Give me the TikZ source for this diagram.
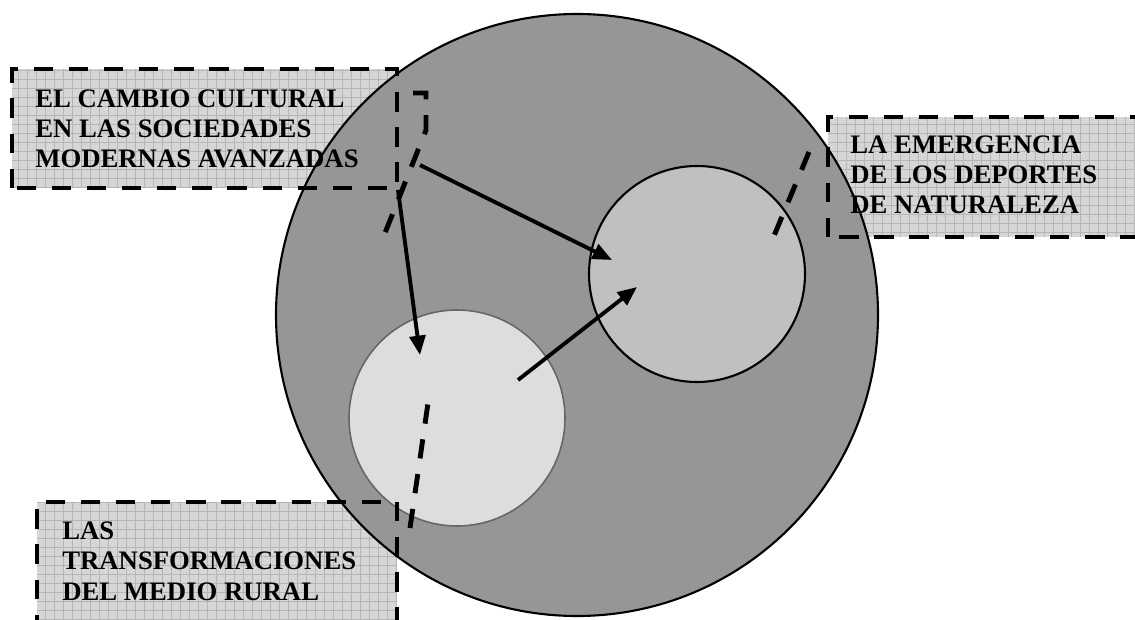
\documentclass[tikz,border=0pt]{standalone}
\usepackage{fontspec}
\setmainfont{Liberation Serif}
\usetikzlibrary{arrows.meta}
\definecolor{anillo}{RGB}{150,150,150}
\definecolor{deporte}{RGB}{192,192,192}
\definecolor{campo}{RGB}{221,221,221}
\definecolor{caja}{RGB}{214,214,214}
\definecolor{rejilla}{RGB}{182,182,182}
\begin{document}
\begin{tikzpicture}[font=\bfseries\fontsize{15.2}{17.2}\selectfont,
  raya/.style={line width=2.8pt, dash pattern=on 11pt off 9pt},
  flecha/.style={line width=2.2pt, -{Triangle[length=11pt,width=9pt]}},
  disco/.style={circle, draw, inner sep=0pt},
  rotulo/.style={anchor=base west, align=left, inner sep=0pt}]
  \useasboundingbox (0,0) rectangle (22.70,12.38);
  % fondo cuadriculado de las cajas
  \foreach \xa/\ya/\xb/\yb in {0.24/8.62/7.94/11.00, 16.56/7.64/22.90/10.04, 0.74/-0.30/7.94/2.34}{
    \begin{scope}
      \clip (\xa,\ya) rectangle (\xb,\yb);
      \fill[caja] (\xa,\ya) rectangle (\xb,\yb);
      \draw[rejilla, line width=0.5pt, step=0.18] (\xa,\ya) grid (\xb,\yb);
    \end{scope}
  }
  % circulos
  \node[disco, line width=1.2pt, fill=anillo, minimum size=12.04cm] (nucleo) at (11.54,6.08) {};
  \node[disco, line width=1.2pt, fill=deporte, minimum size=4.32cm] (deportes) at (13.94,6.90) {};
  \node[disco, draw=black!60, line width=0.9pt, fill=campo, minimum size=4.32cm] (rural) at (9.14,4.02) {};
  % bordes
  \foreach \xa/\ya/\xb/\yb in {0.24/8.62/7.94/11.00, 16.56/7.64/22.90/10.04, 0.74/-0.30/7.94/2.34}
    \draw[raya] (\xa,\ya) rectangle (\xb,\yb);
  % textos (base = ultima linea)
  \node[rotulo] (cambio) at (0.70,9.02)
    {EL CAMBIO CULTURAL\\EN LAS SOCIEDADES\\MODERNAS AVANZADAS};
  \node[rotulo] (emergencia) at (17.00,8.10)
    {LA EMERGENCIA\\DE LOS DEPORTES\\DE NATURALEZA};
  \node[rotulo] (medio) at (1.24,0.38)
    {LAS\\TRANSFORMACIONES\\DEL MEDIO RURAL};
  % lineas de llamada
  \coordinate (cambio-t) at (8.26,10.52);
  \coordinate (cambio-p) at (7.62,7.52);
  \coordinate (emergencia-t) at (16.18,9.34);
  \coordinate (emergencia-p) at (15.42,7.52);
  \coordinate (medio-t) at (8.20,1.82);
  \coordinate (medio-p) at (8.56,4.32);
  \draw[raya] (cambio-t) -- ++(0.26,0) -- ++(0,-0.74) -- (cambio-p);
  \draw[raya] (emergencia-t) -- (emergencia-p);
  \draw[raya] (medio-t) -- (medio-p);
  % flechas
  \coordinate (c1) at (7.96,8.58);
  \coordinate (c2) at (8.40,9.08);
  \coordinate (r1) at (8.40,5.28);
  \coordinate (r2) at (10.36,4.78);
  \coordinate (d1) at (12.24,7.18);
  \coordinate (d2) at (12.74,6.64);
  \draw[flecha] (c1) -- (r1);
  \draw[flecha] (c2) -- (d1);
  \draw[flecha] (r2) -- (d2);
\end{tikzpicture}
\end{document}
